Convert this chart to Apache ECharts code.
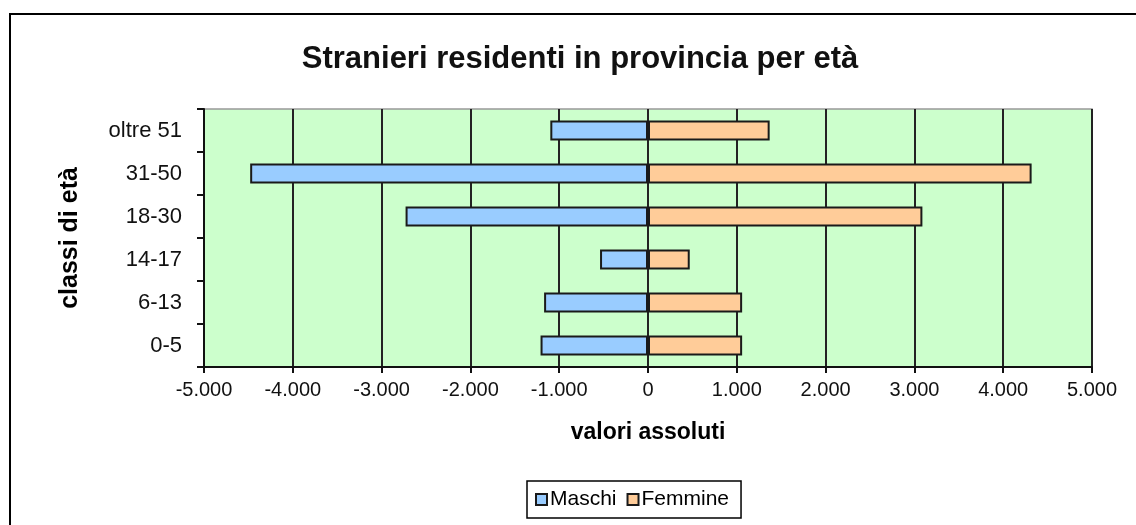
<!DOCTYPE html>
<html>
<head>
<meta charset="utf-8">
<script src="https://cdn.jsdelivr.net/npm/echarts@6/dist/echarts.min.js"></script>
<style>
  html, body { margin: 0; padding: 0; background: #fff; }
  #chart { width: 1136px; height: 525px; }
</style>
</head>
<body>
<div id="chart"></div>
<script>
// classi di età, dal basso verso l'alto
const classi = ['0-5', '6-13', '14-17', '18-30', '31-50', 'oltre 51'];
const maschi = [-1210, -1170, -540, -2730, -4480, -1100];
const femmine = [1060, 1060, 470, 3090, 4320, 1370];
const xTicks = [-5000, 5000, 1000]; // min, max, passo

function fmt(v) {
  const s = Math.abs(v).toString().replace(/\B(?=(\d{3})+(?!\d))/g, '.');
  return (v < 0 ? '-' : '') + s;
}

const chart = echarts.init(document.getElementById('chart'));
const font = 'Arial, "Liberation Sans", sans-serif';

chart.setOption({
  animation: false,
  backgroundColor: '#fff',
  textStyle: { fontFamily: font, color: '#000' },
  graphic: [{
    type: 'rect',
    shape: { x: 10, y: 14, width: 1200, height: 600 },
    style: { fill: 'none', stroke: '#000', lineWidth: 2 }
  }],
  title: {
    text: 'Stranieri residenti in provincia per età',
    left: 580, top: 44, padding: 0,
    textAlign: 'center',
    textStyle: { fontFamily: font, fontSize: 31, fontWeight: 'bold', color: '#111' }
  },
  legend: {
    left: 527, top: 481,
    padding: [8, 12, 8, 8],
    itemGap: 10,
    itemWidth: 11, itemHeight: 11,
    icon: 'rect',
    borderColor: '#000', borderWidth: 1.5,
    textStyle: { fontFamily: font, fontSize: 21, color: '#000', padding: [0, 0, 0, -2] },
    data: ['Maschi', 'Femmine']
  },
  grid: {
    left: 204, right: 44, top: 109, bottom: 158,
    show: true,
    backgroundColor: '#CCFFCC',
    borderColor: '#999', borderWidth: 1.5
  },
  xAxis: {
    type: 'value',
    min: xTicks[0], max: xTicks[1], interval: xTicks[2],
    name: 'valori assoluti',
    nameLocation: 'middle',
    nameGap: 54,
    nameTextStyle: { fontFamily: font, fontSize: 23, fontWeight: 'bold', color: '#000' },
    axisLine: { show: true, onZero: false, lineStyle: { color: '#111', width: 2 } },
    axisTick: { show: true, length: 6, lineStyle: { color: '#111', width: 2 } },
    axisLabel: { fontFamily: font, fontSize: 20, color: '#111', margin: 13, formatter: fmt },
    splitLine: { show: true, lineStyle: { color: '#222', width: 2 } }
  },
  yAxis: {
    type: 'category',
    data: classi,
    name: 'classi di età',
    nameLocation: 'middle',
    nameRotate: 90,
    nameGap: 121,
    nameTextStyle: { fontFamily: font, fontSize: 25, fontWeight: 'bold', color: '#000' },
    axisLine: { show: true, onZero: false, lineStyle: { color: '#111', width: 2 } },
    axisTick: { show: true, length: 7, lineStyle: { color: '#111', width: 2 } },
    axisLabel: { fontFamily: font, fontSize: 22, color: '#111', margin: 22 },
    splitLine: { show: false }
  },
  series: [
    {
      name: 'Maschi',
      type: 'bar',
      stack: 'eta',
      barWidth: 20,
      data: maschi,
      itemStyle: { color: '#99CCFF', borderColor: '#1a1a1a', borderWidth: 2 }
    },
    {
      name: 'Femmine',
      type: 'bar',
      stack: 'eta',
      barWidth: 20,
      data: femmine,
      itemStyle: { color: '#FFCC99', borderColor: '#1a1a1a', borderWidth: 2 }
    }
  ]
});
</script>
</body>
</html>
